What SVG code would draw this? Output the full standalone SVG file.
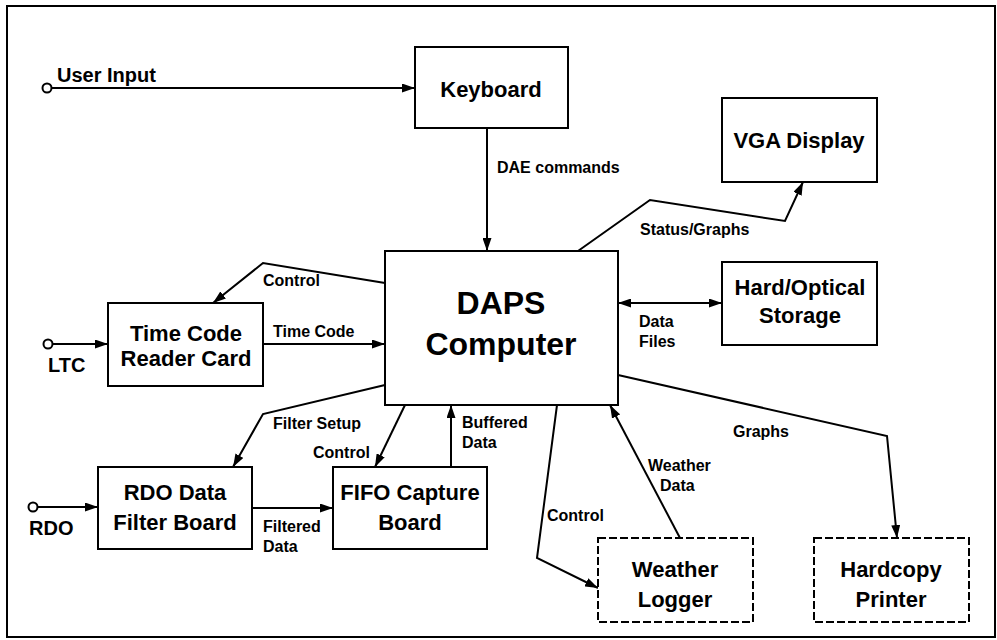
<svg xmlns="http://www.w3.org/2000/svg" width="997" height="640" viewBox="0 0 997 640">
<style>
.box{fill:#fff;stroke:#000;stroke-width:2}
.dash{fill:#fff;stroke:#000;stroke-width:2;stroke-dasharray:8 3}
.n{font-family:"Liberation Sans",Arial,sans-serif;font-weight:bold;font-size:22px;text-anchor:middle;fill:#000}
.big{font-family:"Liberation Sans",Arial,sans-serif;font-weight:bold;font-size:32px;text-anchor:middle;fill:#000}
.l{font-family:"Liberation Sans",Arial,sans-serif;font-weight:bold;font-size:16px;fill:#000}
.io{font-family:"Liberation Sans",Arial,sans-serif;font-weight:bold;font-size:20px;fill:#000}
.c{fill:none;stroke:#000;stroke-width:2}
.a{marker-end:url(#ah)}
</style>
<defs>
<marker id="ah" viewBox="0 0 13 9" refX="13" refY="4.5" markerWidth="13" markerHeight="9" markerUnits="userSpaceOnUse" orient="auto-start-reverse">
<path d="M0,0 L13,4.5 L0,9 z" fill="#000"/>
</marker>
</defs>
<rect x="7" y="6" width="988" height="631" fill="#fff" stroke="#000" stroke-width="2"/>
<g id="connectors">
<circle cx="47" cy="88" r="4.5" class="c"/>
<line x1="51.5" y1="88" x2="415" y2="88" class="c a"/>
<line x1="487" y1="128" x2="487" y2="251" class="c a"/>
<polyline points="578,251 650,200 785,221 803,182" class="c a"/>
<line x1="618" y1="303" x2="722" y2="303" class="c a" marker-start="url(#ah)"/>
<polyline points="385,283 263,263 213,303" class="c a"/>
<circle cx="48" cy="344" r="4.5" class="c"/>
<line x1="52.5" y1="344" x2="108" y2="344" class="c a"/>
<line x1="263" y1="344" x2="385" y2="344" class="c a"/>
<polyline points="385,385 263,414 233,467" class="c a"/>
<circle cx="33" cy="507" r="4.5" class="c"/>
<line x1="37.5" y1="507" x2="98" y2="507" class="c a"/>
<line x1="252" y1="508" x2="333" y2="508" class="c a"/>
<line x1="405" y1="405" x2="375" y2="467" class="c a"/>
<line x1="451" y1="467" x2="451" y2="405" class="c a"/>
<polyline points="557,405 537,558 598,588" class="c a"/>
<line x1="680" y1="538" x2="610" y2="405" class="c a"/>
<polyline points="618,375 887,436 897,538" class="c a"/>
<text x="57" y="82" class="io">User Input</text>
<text x="48" y="372" class="io">LTC</text>
<text x="29" y="535" class="io">RDO</text>
<text x="497" y="173" class="l">DAE commands</text>
<text x="640" y="235" class="l">Status/Graphs</text>
<text x="639" y="327" class="l">Data</text>
<text x="639" y="347" class="l">Files</text>
<text x="263" y="286" class="l">Control</text>
<text x="273" y="337" class="l">Time Code</text>
<text x="273" y="429" class="l">Filter Setup</text>
<text x="313" y="458" class="l">Control</text>
<text x="462" y="428" class="l">Buffered</text>
<text x="462" y="448" class="l">Data</text>
<text x="263" y="532" class="l">Filtered</text>
<text x="263" y="552" class="l">Data</text>
<text x="733" y="437" class="l">Graphs</text>
<text x="648" y="471" class="l">Weather</text>
<text x="660" y="491" class="l">Data</text>
<text x="547" y="521" class="l">Control</text>
</g>
<g id="keyboard"><rect x="415" y="47" width="153" height="81" class="box"/><text x="491" y="97" class="n">Keyboard</text></g>
<g id="vga"><rect x="722" y="98" width="155" height="84" class="box"/><text x="799" y="148" class="n">VGA Display</text></g>
<g id="daps"><rect x="385" y="251" width="233" height="154" class="box"/><text x="501" y="314" class="big">DAPS</text><text x="501" y="355" class="big">Computer</text></g>
<g id="storage"><rect x="722" y="262" width="155" height="83" class="box"/><text x="800" y="295" class="n">Hard/Optical</text><text x="800" y="323" class="n">Storage</text></g>
<g id="timecode"><rect x="108" y="303" width="155" height="83" class="box"/><text x="186" y="341" class="n">Time Code</text><text x="186" y="366" class="n">Reader Card</text></g>
<g id="rdofilter"><rect x="98" y="467" width="154" height="82" class="box"/><text x="175" y="500" class="n">RDO Data</text><text x="175" y="530" class="n">Filter Board</text></g>
<g id="fifo"><rect x="333" y="467" width="154" height="82" class="box"/><text x="410" y="500" class="n">FIFO Capture</text><text x="410" y="530" class="n">Board</text></g>
<g id="weather"><rect x="598" y="538" width="155" height="84" class="dash"/><text x="675" y="577" class="n">Weather</text><text x="675" y="607" class="n">Logger</text></g>
<g id="printer"><rect x="814" y="538" width="155" height="84" class="dash"/><text x="891" y="577" class="n">Hardcopy</text><text x="891" y="607" class="n">Printer</text></g>
</svg>
